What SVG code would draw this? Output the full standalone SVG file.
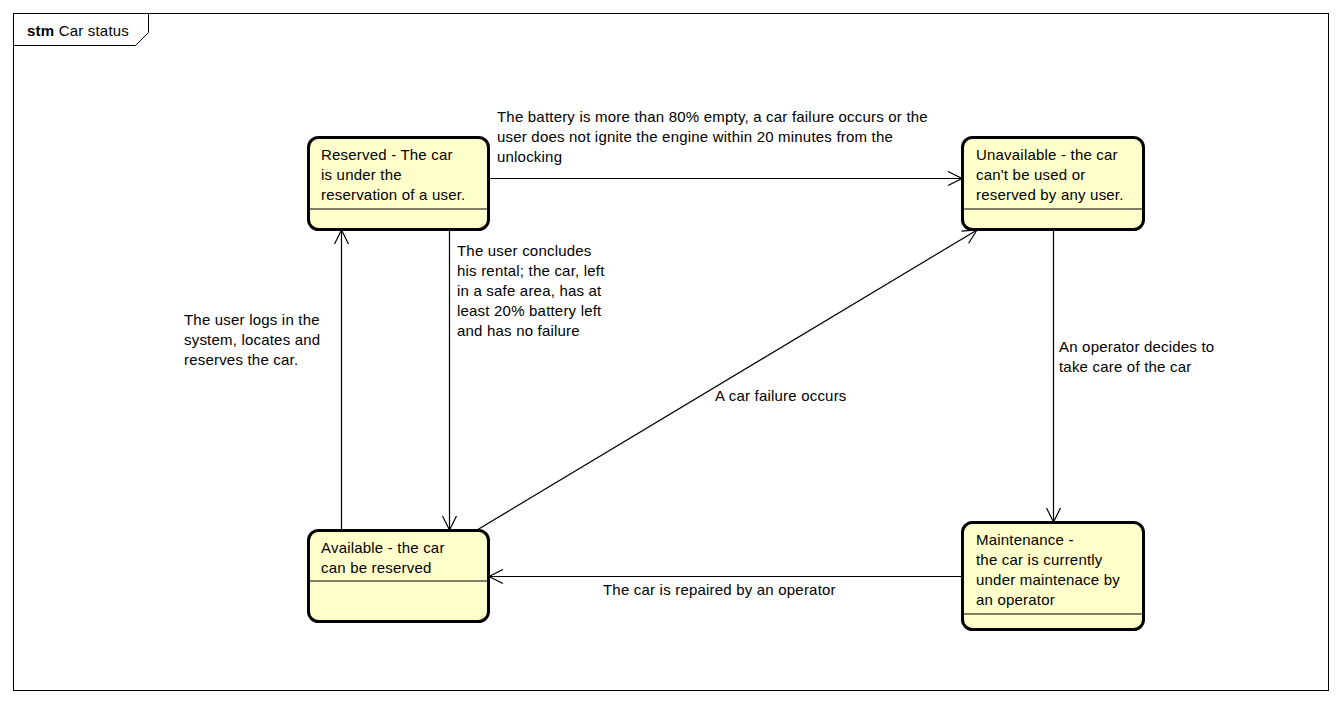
<svg xmlns="http://www.w3.org/2000/svg" width="1342" height="704" viewBox="0 0 1342 704">
<style>
text{font-family:"Liberation Sans",Arial,sans-serif;font-size:15px;letter-spacing:0.2px;fill:#000}
.st{fill:#FFFFCC;stroke:#000;stroke-width:3}
.dv{stroke:#000;stroke-width:1.2}
.cn{fill:none;stroke:#000;stroke-width:1.2}
</style>
<defs>
<marker id="ah" viewBox="0 0 16 16" refX="15" refY="8" markerWidth="16" markerHeight="16" markerUnits="userSpaceOnUse" orient="auto">
<path d="M1,1 L15,8 L1,15" fill="none" stroke="#000" stroke-width="1.2"/>
</marker>
</defs>
<rect x="0" y="0" width="1342" height="704" fill="#fff"/>
<g id="frame">
<rect x="13.5" y="13.5" width="1315" height="677" fill="none" stroke="#000" stroke-width="1"/>
<path d="M13.5,45.5 L135.5,45.5 L148.5,32.5 L148.5,13.5" fill="none" stroke="#000" stroke-width="1"/>
<text x="27" y="36"><tspan font-weight="bold">stm</tspan> Car status</text>
</g>
<g id="connectors">
<line class="cn" x1="489" y1="178.5" x2="962" y2="178.5" marker-end="url(#ah)"/>
<line class="cn" x1="449.5" y1="230" x2="449.5" y2="530" marker-end="url(#ah)"/>
<line class="cn" x1="341.5" y1="530" x2="341.5" y2="230" marker-end="url(#ah)"/>
<line class="cn" x1="477" y1="530" x2="977" y2="230" marker-end="url(#ah)"/>
<line class="cn" x1="1053.5" y1="230" x2="1053.5" y2="522" marker-end="url(#ah)"/>
<line class="cn" x1="962" y1="576.5" x2="489" y2="576.5" marker-end="url(#ah)"/>
<text x="497" y="122">The battery is more than 80% empty, a car failure occurs or the</text>
<text x="497" y="142">user does not ignite the engine within 20 minutes from the</text>
<text x="497" y="162">unlocking</text>
<text x="457" y="256">The user concludes</text>
<text x="457" y="276">his rental; the car, left</text>
<text x="457" y="296">in a safe area, has at</text>
<text x="457" y="316">least 20% battery left</text>
<text x="457" y="336">and has no failure</text>
<text x="184" y="325">The user logs in the</text>
<text x="184" y="345">system, locates and</text>
<text x="184" y="365">reserves the car.</text>
<text x="715" y="401">A car failure occurs</text>
<text x="1059" y="352">An operator decides to</text>
<text x="1059" y="372">take care of the car</text>
<text x="603" y="595">The car is repaired by an operator</text>
</g>
<g id="reserved">
<rect class="st" x="308.5" y="137.5" width="180" height="92" rx="10"/>
<line class="dv" x1="308.5" y1="209" x2="488.5" y2="209"/>
<text x="321" y="160">Reserved - The car</text>
<text x="321" y="180">is under the</text>
<text x="321" y="200">reservation of a user.</text>
</g>
<g id="unavailable">
<rect class="st" x="962.5" y="137.5" width="181" height="92" rx="10"/>
<line class="dv" x1="962.5" y1="209" x2="1143.5" y2="209"/>
<text x="976" y="160">Unavailable - the car</text>
<text x="976" y="180">can't be used or</text>
<text x="976" y="200">reserved by any user.</text>
</g>
<g id="available">
<rect class="st" x="308.5" y="530.5" width="180" height="91" rx="10"/>
<line class="dv" x1="308.5" y1="581" x2="488.5" y2="581"/>
<text x="321" y="553">Available - the car</text>
<text x="321" y="573">can be reserved</text>
</g>
<g id="maintenance">
<rect class="st" x="962.5" y="522.5" width="181" height="107" rx="10"/>
<line class="dv" x1="962.5" y1="614" x2="1143.5" y2="614"/>
<text x="976" y="545">Maintenance -</text>
<text x="976" y="565">the car is currently</text>
<text x="976" y="585">under maintenace by</text>
<text x="976" y="605">an operator</text>
</g>
</svg>
